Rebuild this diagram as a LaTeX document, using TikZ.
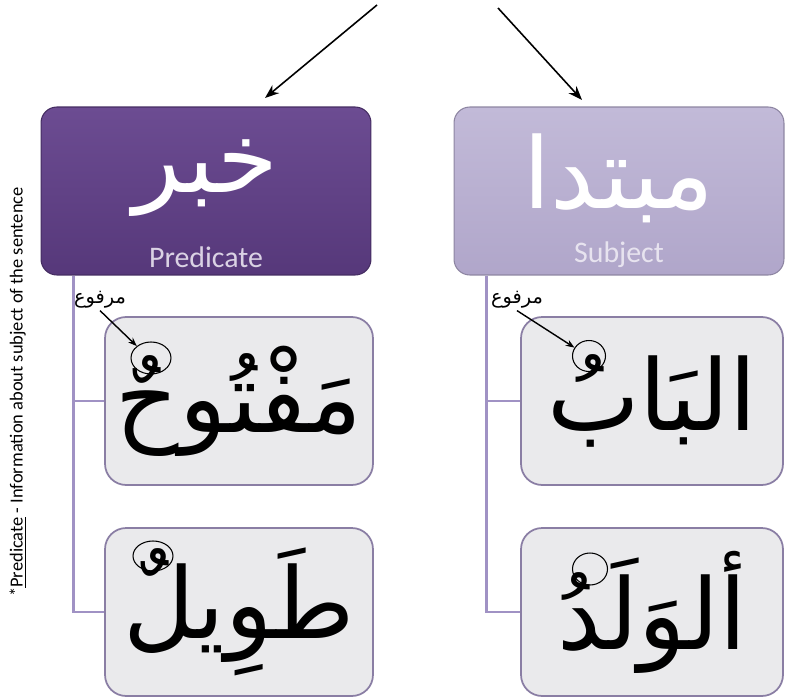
\documentclass[tikz,border=0pt]{standalone}
\usepackage{fontspec}
\setmainfont{Carlito}
\newfontfamily\arabicfont[Script=Arabic]{DejaVu Sans}
\TeXXeTstate=1
\usetikzlibrary{positioning,shapes.geometric,arrows.meta}

\definecolor{predTop}{RGB}{108,76,146}
\definecolor{predBottom}{RGB}{86,56,122}
\definecolor{subjTop}{RGB}{194,186,216}
\definecolor{subjBottom}{RGB}{176,166,202}
\definecolor{wordFill}{RGB}{234,234,236}
\definecolor{wordEdge}{RGB}{138,126,164}
\definecolor{branchCol}{RGB}{160,146,196}

\begin{document}
\begin{tikzpicture}[x=0.02cm, y=-0.02cm,
  headbox/.style = {shape=rectangle, rounded corners=9pt,
    draw=#1Bottom!80!black, line width=0.6pt,
    top color=#1Top, bottom color=#1Bottom,
    minimum width=6.6cm, minimum height=3.36cm},
  headword/.style = {text=white,
    font=\arabicfont\fontsize{56}{60}\selectfont},
  headname/.style = {font=\fontsize{17}{20}\selectfont},
  wordbox/.style = {shape=rectangle, rounded corners=12pt,
    draw=wordEdge, line width=1pt, fill=wordFill,
    minimum width=5.36cm, minimum height=3.36cm,
    font=\arabicfont\fontsize{56}{64}\selectfont},
  branch/.style = {draw=branchCol, line width=1.7pt},
  harakaring/.style = {shape=ellipse, draw, line width=0.6pt, inner sep=0pt},
  rafa/.style = {font=\arabicfont\fontsize{11}{12}\selectfont, inner sep=1pt},
  tagarrow/.style = {-{Stealth[length=5pt]}, line width=0.8pt},
  inarrow/.style = {-{Stealth[length=8pt,width=6pt]}, line width=0.9pt},
  sidenote/.style = {font=\fontsize{10.5}{12}\selectfont}
  ]
  \useasboundingbox (0,0) rectangle (785,700);

  % header boxes
  \node[headbox=pred] (pred) at (206,191) {};
  \node[headbox=subj] (subj) at (619,191) {};
  \node[headword] (predWord) at (206,178) {\beginR خبر\endR};
  \node[headword] (subjWord) at (619,178) {\beginR مبتدا\endR};
  \node[headname, text=predTop!25!white, above=1pt of pred.south] (predName) {Predicate};
  \node[headname, text=subjTop!40!white, above=1pt of subj.south] (subjName) {Subject};

  % incoming arrows
  \coordinate (topL) at (377,5);
  \coordinate (tipL) at (265,98);
  \coordinate (topR) at (498,8);
  \coordinate (tipR) at (582,100);
  \draw[inarrow] (topL) -- (tipL);
  \draw[inarrow] (topR) -- (tipR);

  % word boxes
  \node[wordbox] (maftuh) at (239,401) {\beginR مَفْتُوحٌ\endR};
  \node[wordbox] (tawil) at (239,612) {\beginR طَوِيلٌ\endR};
  \node[wordbox, minimum width=5.24cm] (bab) at (652,401) {\beginR البَابُ\endR};
  \node[wordbox, minimum width=5.24cm] (walad) at (652,612) {\beginR ألوَلَدُ\endR};

  % branches
  \draw[branch] ([xshift=0.66cm]pred.south west) |- (maftuh.west);
  \draw[branch] ([xshift=0.66cm]pred.south west) |- (tawil.west);
  \draw[branch] ([xshift=0.66cm]subj.south west) |- (bab.west);
  \draw[branch] ([xshift=0.66cm]subj.south west) |- (walad.west);

  % marked endings
  \node[harakaring, minimum width=0.8cm, minimum height=0.64cm] (ringMaftuh) at (151,358) {};
  \node[harakaring, minimum width=0.66cm, minimum height=0.62cm] (ringBab) at (589,356) {};
  \node[harakaring, minimum width=0.8cm, minimum height=0.6cm] (ringTawil) at (153,556) {};
  \node[harakaring, minimum width=0.7cm, minimum height=0.64cm] (ringWalad) at (590,569) {};

  \node[rafa] (rafaL) at (100,300) {\beginR مرفوع\endR};
  \node[rafa] (rafaR) at (517,300) {\beginR مرفوع\endR};
  \draw[tagarrow] (rafaL.south) -- (ringMaftuh.140);
  \draw[tagarrow] (rafaR.south) -- (ringBab.150);

  % side note
  \node[sidenote, rotate=90] (note) at (18,392)
    {*\underline{Predicate} - Information about subject of the sentence};
\end{tikzpicture}
\end{document}
